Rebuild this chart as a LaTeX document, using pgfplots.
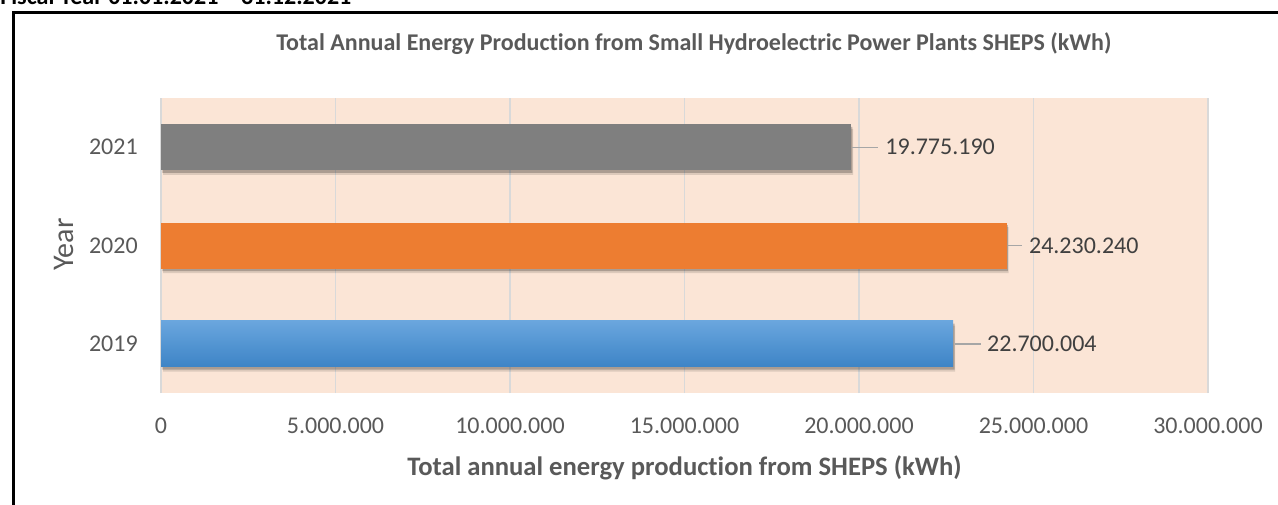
\documentclass[border=0pt]{standalone}
\usepackage{fontspec}
\setmainfont{Carlito}[Ligatures={NoCommon}]
\usepackage{pgfplots}
\pgfplotsset{compat=1.18}
\definecolor{peach}{HTML}{FBE5D6}
\definecolor{gridc}{HTML}{D9D9D9}
\definecolor{txt}{HTML}{595959}
\definecolor{lbl}{HTML}{404040}
\definecolor{leader}{HTML}{A6A6A6}
\definecolor{bargray}{HTML}{7F7F7F}
\definecolor{barorange}{HTML}{ED7D31}
\definecolor{bluetop}{HTML}{6AA6DE}
\definecolor{bluebot}{HTML}{3D84C6}
\newcommand\leader[2]{\textcolor{leader}{\rule[5.2pt]{#1}{1pt}}\hspace{#2}}
\begin{document}
\begin{tikzpicture}
\useasboundingbox (0,0) rectangle (958.5pt,378pt);
\node[anchor=base west, inner sep=0pt, font=\fontsize{18}{20}\selectfont\bfseries] at (0pt,374.25pt) {Fiscal Year 01.01.2021 – 31.12.2021};
\draw[line width=2pt] (10pt,-20pt) rectangle (980pt,368.6pt);
\begin{axis}[
  at={(120.75pt,83.25pt)}, anchor=south west,
  scale only axis, width=785.25pt, height=221.25pt,
  xmin=0, xmax=30000000, ymin=0.5, ymax=3.5,
  xtick={0,5000000,10000000,15000000,20000000,25000000,30000000},
  ytick={1,2,3}, yticklabels={2019,2020,2021},
  scaled x ticks=false,
  /pgf/number format/assume math mode=true,
  x tick label style={/pgf/number format/fixed, /pgf/number format/precision=0, /pgf/number format/1000 sep={.}},
  tick label style={font=\fontsize{18}{20}\selectfont, text=txt},
  xticklabel style={anchor=base, yshift=-30.5pt},
  yticklabel style={anchor=east, inner sep=0pt, xshift=-17.25pt},
  major tick length=0pt,
  axis line style={draw=none},
  xmajorgrids, grid style={gridc, line width=0.9pt},
  axis background/.style={fill=peach},
  title={Total Annual Energy Production from Small Hydroelectric Power Plants SHEPS (kWh)},
  title style={at={(axis description cs:0.509,1.1356)}, anchor=base, font=\fontsize{18}{20}\selectfont\bfseries, text=txt},
  xlabel={Total annual energy production from SHEPS (kWh)},
  xlabel style={at={(axis description cs:0.5,-0.278)}, anchor=base, font=\fontsize{20}{22}\selectfont\bfseries, text=txt},
  ylabel={Year},
  ylabel style={at={(axis description cs:-0.0926,0.503)}, anchor=center, font=\fontsize{22.5}{24}\selectfont, text=txt},
  every node near coord/.append style={anchor=west, inner sep=0pt, xshift=0.75pt, font=\fontsize{18}{20}\selectfont, text=lbl},
  bar width=34.5pt,
]
% shadows
\addplot[xbar, bar shift=0pt, draw=none, fill=black, fill opacity=0.12, yshift=-3.5pt, xshift=1.5pt]
  coordinates {(19775190,3) (24230240,2) (22700004,1)};
\addplot[xbar, bar shift=0pt, draw=none, fill=black, fill opacity=0.22, yshift=-2pt, xshift=1pt]
  coordinates {(19775190,3) (24230240,2) (22700004,1)};
% bars
\addplot[xbar, bar shift=0pt, draw=none, fill=bargray, point meta=explicit symbolic,
  nodes near coords={\leader{19.5pt}{5.25pt}\pgfplotspointmeta}]
  coordinates {(19775190,3) [19.775.190]};
\addplot[xbar, bar shift=0pt, draw=none, fill=barorange, point meta=explicit symbolic,
  nodes near coords={\leader{10.9pt}{5pt}\pgfplotspointmeta}]
  coordinates {(24230240,2) [24.230.240]};
\addplot[xbar, bar shift=0pt, draw=none, top color=bluetop, bottom color=bluebot, point meta=explicit symbolic,
  nodes near coords={\leader{19.5pt}{5pt}\pgfplotspointmeta}]
  coordinates {(22700004,1) [22.700.004]};
\end{axis}
\end{tikzpicture}
\end{document}
